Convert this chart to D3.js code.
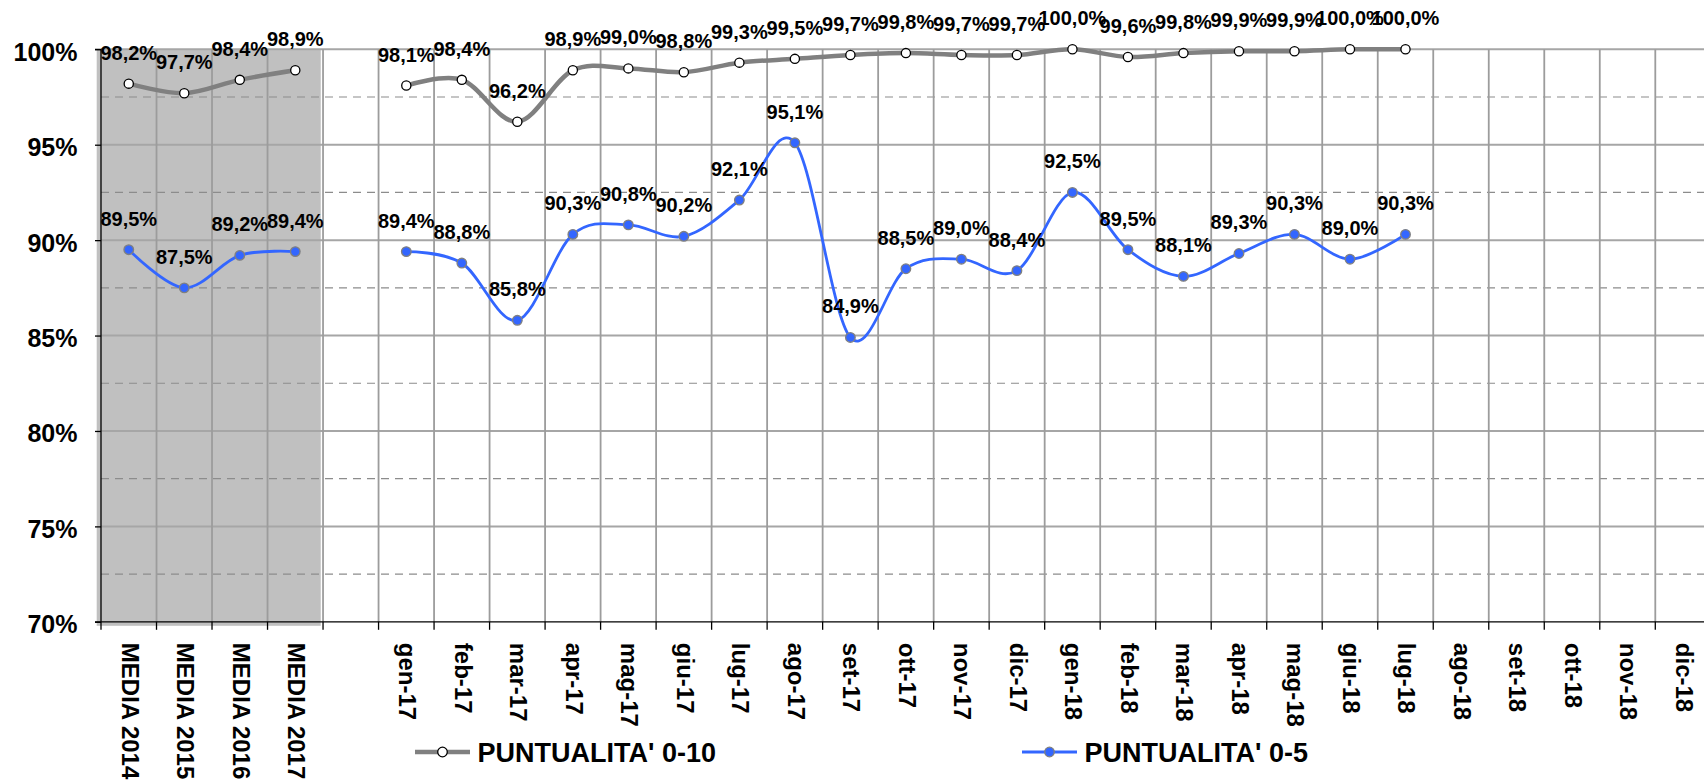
<!DOCTYPE html>
<html>
<head>
<meta charset="utf-8">
<script src="https://cdn.jsdelivr.net/npm/d3@7"></script>
<style>
  html, body { margin: 0; padding: 0; background: #fff; }
  svg { display: block; }
  text { font-family: Arial, "Liberation Sans", sans-serif; font-weight: bold; fill: #000; }
</style>
</head>
<body>
<svg id="chart" width="1704" height="781"></svg>
<script>
// ---- data ----
const mediaLabels = ["MEDIA 2014", "MEDIA 2015", "MEDIA 2016", "MEDIA 2017"];
const blankLabel = " ";
const monthLabels = ["gen-17","feb-17","mar-17","apr-17","mag-17","giu-17","lug-17","ago-17","set-17","ott-17","nov-17","dic-17",
                     "gen-18","feb-18","mar-18","apr-18","mag-18","giu-18","lug-18","ago-18","set-18","ott-18","nov-18","dic-18"];
const seriesNames = ["PUNTUALITA' 0-10", "PUNTUALITA' 0-5"];
const grayMedia = [98.2, 97.7, 98.4, 98.9];
const grayMonthly = [98.1, 98.4, 96.2, 98.9, 99.0, 98.8, 99.3, 99.5, 99.7, 99.8, 99.7, 99.7, 100.0, 99.6, 99.8, 99.9, 99.9, 100.0, 100.0];
const blueMedia = [89.5, 87.5, 89.2, 89.4];
const blueMonthly = [89.4, 88.8, 85.8, 90.3, 90.8, 90.2, 92.1, 95.1, 84.9, 88.5, 89.0, 88.4, 92.5, 89.5, 88.1, 89.3, 90.3, 89.0, 90.3];
const yTicks = [70, 75, 80, 85, 90, 95, 100];
const yMinor = [72.5, 77.5, 82.5, 87.5, 92.5, 97.5];

// ---- setup ----
const categories = [...mediaLabels, blankLabel, ...monthLabels];
const svg = d3.select("#chart");
const x = d3.scaleBand().domain(categories).range([101, 1710.8]).padding(0);
const y = d3.scaleLinear().domain([70, 100]).range([621.8, 49.3]);
const cx = c => x(c) + x.bandwidth() / 2;
const fmt = v => d3.format(".1f")(v).replace(".", ",") + "%";

// shaded background behind averages
svg.append("rect")
  .attr("x", x(mediaLabels[0]) - 4.3)
  .attr("y", y(100))
  .attr("width", x(mediaLabels[mediaLabels.length - 1]) + x.bandwidth() - 2.3 - (x(mediaLabels[0]) - 4.3))
  .attr("height", y(70) - y(100) + 4)
  .attr("fill", "#c0c0c0");

// minor dashed gridlines
svg.append("g").selectAll("line").data(yMinor).join("line")
  .attr("x1", x.range()[0]).attr("x2", x.range()[1])
  .attr("y1", d => y(d)).attr("y2", d => y(d))
  .attr("stroke", "#8c8c8c").attr("stroke-width", 1.2).attr("stroke-dasharray", "8,6");

// major gridlines
svg.append("g").selectAll("line").data(yTicks.filter(d => d > 70)).join("line")
  .attr("x1", x.range()[0]).attr("x2", x.range()[1])
  .attr("y1", d => y(d)).attr("y2", d => y(d))
  .attr("stroke", "#a6a6a6").attr("stroke-width", 2);

// vertical gridlines at category boundaries
svg.append("g").selectAll("line").data(categories.slice(1)).join("line")
  .attr("x1", d => x(d)).attr("x2", d => x(d))
  .attr("y1", y(100)).attr("y2", y(70))
  .attr("stroke", "#9c9c9c").attr("stroke-width", 1.8);

// y axis
const yAxis = d3.axisLeft(y).tickValues(yTicks).tickSize(6).tickFormat(d => d + "%");
const gy = svg.append("g").attr("transform", `translate(${x.range()[0]},0)`).call(yAxis);
gy.select(".domain").attr("stroke", "#000").attr("stroke-width", 1.3).attr("d", `M-6,${y(100)}H0V${y(70)}`);
gy.selectAll(".tick line").attr("stroke", "#000").attr("stroke-width", 1.3);
gy.selectAll(".tick text")
  .attr("x", -23.5).attr("dy", "0.44em")
  .style("font-size", "25px").style("font-family", "Arial, 'Liberation Sans', sans-serif").style("font-weight", "bold");

// x axis
const xAxis = d3.axisBottom(x).tickSize(0).tickSizeOuter(0);
const gx = svg.append("g").attr("transform", `translate(0,${y(70)})`).call(xAxis);
gx.select(".domain").attr("stroke", "#000").attr("stroke-width", 1.3).attr("d", `M${x.range()[0]-6},0H${x.range()[1]}`);
gx.selectAll(".tick text")
  .attr("transform", "rotate(90)")
  .attr("text-anchor", "start")
  .attr("x", 21).attr("y", 0).attr("dy", "0.3em")
  .style("font-size", "24px").style("font-family", "Arial, 'Liberation Sans', sans-serif").style("font-weight", "bold");
// boundary tick marks
svg.append("g").selectAll("line").data(categories).join("line")
  .attr("x1", d => x(d)).attr("x2", d => x(d))
  .attr("y1", y(70)).attr("y2", y(70) + 8)
  .attr("stroke", "#000").attr("stroke-width", 1.3);

// series
const curve = d3.curveCatmullRom.alpha(0);
const line = d3.line().x(d => cx(d.c)).y(d => y(d.v)).curve(curve);
const zipS = (cats, vals) => vals.map((v, i) => ({ c: cats[i], v }));

const grayPts = [zipS(mediaLabels, grayMedia), zipS(monthLabels, grayMonthly)];
const bluePts = [zipS(mediaLabels, blueMedia), zipS(monthLabels, blueMonthly)];

svg.append("g").selectAll("path").data(grayPts).join("path")
  .attr("d", line).attr("fill", "none").attr("stroke", "#808080").attr("stroke-width", 4.5)
  .attr("stroke-linejoin", "round");
svg.append("g").selectAll("path").data(bluePts).join("path")
  .attr("d", line).attr("fill", "none").attr("stroke", "#3366ff").attr("stroke-width", 2.8)
  .attr("stroke-linejoin", "round");

const grayFlat = grayPts.flat();
const blueFlat = bluePts.flat();

svg.append("g").selectAll("circle").data(grayFlat).join("circle")
  .attr("cx", d => cx(d.c)).attr("cy", d => y(d.v)).attr("r", 4.6)
  .attr("fill", "#fff").attr("stroke", "#000").attr("stroke-width", 1.3);
svg.append("g").selectAll("circle").data(blueFlat).join("circle")
  .attr("cx", d => cx(d.c)).attr("cy", d => y(d.v)).attr("r", 4.8)
  .attr("fill", "#3366ff").attr("stroke", "#808080").attr("stroke-width", 1.3);

// data labels
const labelG = svg.append("g").style("font-size", "20px");
labelG.selectAll("text.g").data(grayFlat).join("text")
  .attr("x", d => cx(d.c)).attr("y", d => y(d.v) - 24)
  .attr("text-anchor", "middle").text(d => fmt(d.v));
labelG.selectAll("text.b").data(blueFlat).join("text")
  .attr("x", d => cx(d.c)).attr("y", d => y(d.v) - 24)
  .attr("text-anchor", "middle").text(d => fmt(d.v));

// legend
const legendItems = [
  { name: seriesNames[0], x0: 415, stroke: "#808080", sw: 4.5, fill: "#fff", ms: "#000" },
  { name: seriesNames[1], x0: 1022, stroke: "#3366ff", sw: 2.8, fill: "#3366ff", ms: "#808080" }
];
const lg = svg.append("g").selectAll("g").data(legendItems).join("g")
  .attr("transform", d => `translate(${d.x0},752)`);
lg.append("line").attr("x1", 0).attr("x2", 55).attr("y1", 0).attr("y2", 0)
  .attr("stroke", d => d.stroke).attr("stroke-width", d => d.sw);
lg.append("circle").attr("cx", 27.5).attr("cy", 0).attr("r", 4.8)
  .attr("fill", d => d.fill).attr("stroke", d => d.ms).attr("stroke-width", 1.3);
lg.append("text").attr("x", 62.5).attr("y", 9.7)
  .style("font-size", "27px").text(d => d.name);
</script>
</body>
</html>
